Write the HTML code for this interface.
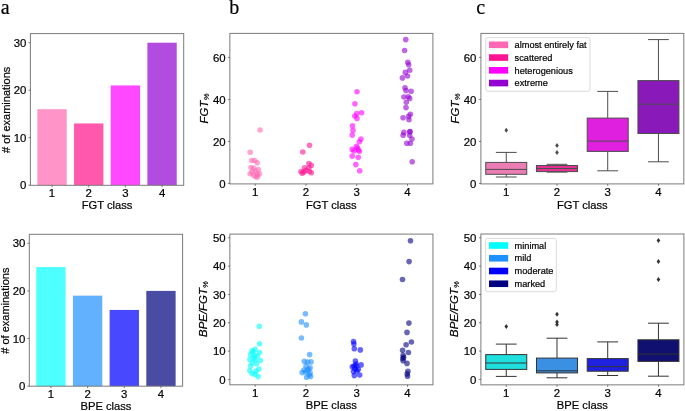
<!DOCTYPE html>
<html><head><meta charset="utf-8"><title>Figure</title>
<style>
html,body{margin:0;padding:0;background:#fff;}
body{width:685px;height:411px;overflow:hidden;}
svg{display:block;font-family:"Liberation Sans",sans-serif;fill:#000;will-change:transform;}
text{fill:#000;stroke:#000;stroke-width:0.2px;}
</style></head>
<body>
<svg width="685" height="411" viewBox="0 0 685 411">
<rect x="0" y="0" width="685" height="411" fill="#fff"/>
<text x="0.8" y="13.7" font-family="Liberation Serif, serif" font-size="20">a</text>
<text x="229.2" y="13.7" font-family="Liberation Serif, serif" font-size="20">b</text>
<text x="476.2" y="13.7" font-family="Liberation Serif, serif" font-size="20">c</text>
<rect x="37.37" y="109.2" width="29.34" height="76" fill="rgb(255,148,200)"/>
<rect x="74.04" y="123.45" width="29.34" height="61.75" fill="rgb(255,88,172)"/>
<rect x="110.72" y="85.45" width="29.34" height="99.75" fill="rgb(255,72,255)"/>
<rect x="147.39" y="42.7" width="29.34" height="142.5" fill="rgb(178,76,224)"/>
<rect x="30.4" y="33.6" width="153.3" height="151.7" fill="none" stroke="#7b7b7b" stroke-width="1.0"/>
<line x1="28.4" y1="185.2" x2="30.4" y2="185.2" stroke="#333" stroke-width="0.6"/>
<text x="26.4" y="189.35" text-anchor="end" font-size="11.4">0</text>
<line x1="28.4" y1="137.7" x2="30.4" y2="137.7" stroke="#333" stroke-width="0.6"/>
<text x="26.4" y="141.85" text-anchor="end" font-size="11.4">10</text>
<line x1="28.4" y1="90.2" x2="30.4" y2="90.2" stroke="#333" stroke-width="0.6"/>
<text x="26.4" y="94.35" text-anchor="end" font-size="11.4">20</text>
<line x1="28.4" y1="42.7" x2="30.4" y2="42.7" stroke="#333" stroke-width="0.6"/>
<text x="26.4" y="46.85" text-anchor="end" font-size="11.4">30</text>
<line x1="52.04" y1="185.3" x2="52.04" y2="187.3" stroke="#333" stroke-width="0.6"/>
<text x="52.04" y="196.9" text-anchor="middle" font-size="11.4">1</text>
<line x1="88.71" y1="185.3" x2="88.71" y2="187.3" stroke="#333" stroke-width="0.6"/>
<text x="88.71" y="196.9" text-anchor="middle" font-size="11.4">2</text>
<line x1="125.39" y1="185.3" x2="125.39" y2="187.3" stroke="#333" stroke-width="0.6"/>
<text x="125.39" y="196.9" text-anchor="middle" font-size="11.4">3</text>
<line x1="162.06" y1="185.3" x2="162.06" y2="187.3" stroke="#333" stroke-width="0.6"/>
<text x="162.06" y="196.9" text-anchor="middle" font-size="11.4">4</text>
<text x="107.05" y="209" text-anchor="middle" font-size="11.2">FGT class</text>
<text transform="translate(9.8,109.85) rotate(-90)" x="0" y="0" text-anchor="middle" font-size="11"># of examinations</text>
<rect x="36.27" y="267.1" width="29.34" height="119" fill="rgb(77,255,255)"/>
<rect x="72.94" y="295.66" width="29.34" height="90.44" fill="rgb(98,177,255)"/>
<rect x="109.62" y="309.94" width="29.34" height="76.16" fill="rgb(72,72,255)"/>
<rect x="146.29" y="290.9" width="29.34" height="95.2" fill="rgb(74,76,164)"/>
<rect x="29.3" y="234.3" width="153.3" height="151.9" fill="none" stroke="#7b7b7b" stroke-width="1.0"/>
<line x1="27.3" y1="386.1" x2="29.3" y2="386.1" stroke="#333" stroke-width="0.6"/>
<text x="25.3" y="390.25" text-anchor="end" font-size="11.4">0</text>
<line x1="27.3" y1="338.5" x2="29.3" y2="338.5" stroke="#333" stroke-width="0.6"/>
<text x="25.3" y="342.65" text-anchor="end" font-size="11.4">10</text>
<line x1="27.3" y1="290.9" x2="29.3" y2="290.9" stroke="#333" stroke-width="0.6"/>
<text x="25.3" y="295.05" text-anchor="end" font-size="11.4">20</text>
<line x1="27.3" y1="243.3" x2="29.3" y2="243.3" stroke="#333" stroke-width="0.6"/>
<text x="25.3" y="247.45" text-anchor="end" font-size="11.4">30</text>
<line x1="50.94" y1="386.2" x2="50.94" y2="388.2" stroke="#333" stroke-width="0.6"/>
<text x="50.94" y="397.8" text-anchor="middle" font-size="11.4">1</text>
<line x1="87.61" y1="386.2" x2="87.61" y2="388.2" stroke="#333" stroke-width="0.6"/>
<text x="87.61" y="397.8" text-anchor="middle" font-size="11.4">2</text>
<line x1="124.29" y1="386.2" x2="124.29" y2="388.2" stroke="#333" stroke-width="0.6"/>
<text x="124.29" y="397.8" text-anchor="middle" font-size="11.4">3</text>
<line x1="160.96" y1="386.2" x2="160.96" y2="388.2" stroke="#333" stroke-width="0.6"/>
<text x="160.96" y="397.8" text-anchor="middle" font-size="11.4">4</text>
<text x="105.95" y="409.9" text-anchor="middle" font-size="11.2">BPE class</text>
<text transform="translate(8.7,310.65) rotate(-90)" x="0" y="0" text-anchor="middle" font-size="11"># of examinations</text>
<circle cx="260.1" cy="130" r="2.8" fill="rgb(255, 105, 180)" fill-opacity="0.6"/>
<circle cx="250.2" cy="152.2" r="2.8" fill="rgb(255, 105, 180)" fill-opacity="0.6"/>
<circle cx="251.7" cy="160.5" r="2.8" fill="rgb(255, 105, 180)" fill-opacity="0.6"/>
<circle cx="254.5" cy="160.5" r="2.8" fill="rgb(255, 105, 180)" fill-opacity="0.6"/>
<circle cx="257.2" cy="162.8" r="2.8" fill="rgb(255, 105, 180)" fill-opacity="0.6"/>
<circle cx="251" cy="167.5" r="2.8" fill="rgb(255, 105, 180)" fill-opacity="0.6"/>
<circle cx="253.7" cy="168.3" r="2.8" fill="rgb(255, 105, 180)" fill-opacity="0.6"/>
<circle cx="258.3" cy="169.5" r="2.8" fill="rgb(255, 105, 180)" fill-opacity="0.6"/>
<circle cx="250.2" cy="173.7" r="2.8" fill="rgb(255, 105, 180)" fill-opacity="0.6"/>
<circle cx="253.7" cy="175.3" r="2.8" fill="rgb(255, 105, 180)" fill-opacity="0.6"/>
<circle cx="257.2" cy="174.1" r="2.8" fill="rgb(255, 105, 180)" fill-opacity="0.6"/>
<circle cx="259.5" cy="173.7" r="2.8" fill="rgb(255, 105, 180)" fill-opacity="0.6"/>
<circle cx="257.6" cy="176.8" r="2.8" fill="rgb(255, 105, 180)" fill-opacity="0.6"/>
<circle cx="255.5" cy="171" r="2.8" fill="rgb(255, 105, 180)" fill-opacity="0.6"/>
<circle cx="256" cy="177" r="2.8" fill="rgb(255, 105, 180)" fill-opacity="0.6"/>
<circle cx="252" cy="172" r="2.8" fill="rgb(255, 105, 180)" fill-opacity="0.6"/>
<circle cx="309.5" cy="145.3" r="2.8" fill="rgb(255, 20, 147)" fill-opacity="0.6"/>
<circle cx="302.8" cy="152" r="2.8" fill="rgb(255, 20, 147)" fill-opacity="0.6"/>
<circle cx="308.9" cy="163.6" r="2.8" fill="rgb(255, 20, 147)" fill-opacity="0.6"/>
<circle cx="311.3" cy="165.4" r="2.8" fill="rgb(255, 20, 147)" fill-opacity="0.6"/>
<circle cx="304.6" cy="167.8" r="2.8" fill="rgb(255, 20, 147)" fill-opacity="0.6"/>
<circle cx="308.9" cy="167.8" r="2.8" fill="rgb(255, 20, 147)" fill-opacity="0.6"/>
<circle cx="301" cy="171.5" r="2.8" fill="rgb(255, 20, 147)" fill-opacity="0.6"/>
<circle cx="304" cy="172.1" r="2.8" fill="rgb(255, 20, 147)" fill-opacity="0.6"/>
<circle cx="309.5" cy="171.5" r="2.8" fill="rgb(255, 20, 147)" fill-opacity="0.6"/>
<circle cx="311.3" cy="172.7" r="2.8" fill="rgb(255, 20, 147)" fill-opacity="0.6"/>
<circle cx="302.2" cy="173.3" r="2.8" fill="rgb(255, 20, 147)" fill-opacity="0.6"/>
<circle cx="306" cy="170.5" r="2.8" fill="rgb(255, 20, 147)" fill-opacity="0.6"/>
<circle cx="357" cy="91.7" r="2.8" fill="rgb(255, 0, 255)" fill-opacity="0.6"/>
<circle cx="354.9" cy="103.8" r="2.8" fill="rgb(255, 0, 255)" fill-opacity="0.6"/>
<circle cx="361.6" cy="112.7" r="2.8" fill="rgb(255, 0, 255)" fill-opacity="0.6"/>
<circle cx="356.8" cy="113.6" r="2.8" fill="rgb(255, 0, 255)" fill-opacity="0.6"/>
<circle cx="354.8" cy="116" r="2.8" fill="rgb(255, 0, 255)" fill-opacity="0.6"/>
<circle cx="357" cy="118.4" r="2.8" fill="rgb(255, 0, 255)" fill-opacity="0.6"/>
<circle cx="352.5" cy="125.7" r="2.8" fill="rgb(255, 0, 255)" fill-opacity="0.6"/>
<circle cx="353" cy="130.3" r="2.8" fill="rgb(255, 0, 255)" fill-opacity="0.6"/>
<circle cx="352.2" cy="135.1" r="2.8" fill="rgb(255, 0, 255)" fill-opacity="0.6"/>
<circle cx="360.9" cy="139.1" r="2.8" fill="rgb(255, 0, 255)" fill-opacity="0.6"/>
<circle cx="359.4" cy="141.8" r="2.8" fill="rgb(255, 0, 255)" fill-opacity="0.6"/>
<circle cx="356.4" cy="146.4" r="2.8" fill="rgb(255, 0, 255)" fill-opacity="0.6"/>
<circle cx="352.2" cy="149.4" r="2.8" fill="rgb(255, 0, 255)" fill-opacity="0.6"/>
<circle cx="358.2" cy="150" r="2.8" fill="rgb(255, 0, 255)" fill-opacity="0.6"/>
<circle cx="359.4" cy="151.3" r="2.8" fill="rgb(255, 0, 255)" fill-opacity="0.6"/>
<circle cx="352.2" cy="156.1" r="2.8" fill="rgb(255, 0, 255)" fill-opacity="0.6"/>
<circle cx="358.2" cy="157.3" r="2.8" fill="rgb(255, 0, 255)" fill-opacity="0.6"/>
<circle cx="355.8" cy="164.6" r="2.8" fill="rgb(255, 0, 255)" fill-opacity="0.6"/>
<circle cx="359.7" cy="170.7" r="2.8" fill="rgb(255, 0, 255)" fill-opacity="0.6"/>
<circle cx="357.5" cy="148" r="2.8" fill="rgb(255, 0, 255)" fill-opacity="0.6"/>
<circle cx="354" cy="151" r="2.8" fill="rgb(255, 0, 255)" fill-opacity="0.6"/>
<circle cx="405.75" cy="39.6" r="2.8" fill="rgb(148, 0, 211)" fill-opacity="0.6"/>
<circle cx="404.6" cy="50.5" r="2.8" fill="rgb(148, 0, 211)" fill-opacity="0.6"/>
<circle cx="407.8" cy="62.2" r="2.8" fill="rgb(148, 0, 211)" fill-opacity="0.6"/>
<circle cx="408.7" cy="64.8" r="2.8" fill="rgb(148, 0, 211)" fill-opacity="0.6"/>
<circle cx="409.7" cy="70.2" r="2.8" fill="rgb(148, 0, 211)" fill-opacity="0.6"/>
<circle cx="405.3" cy="72.4" r="2.8" fill="rgb(148, 0, 211)" fill-opacity="0.6"/>
<circle cx="407.5" cy="76" r="2.8" fill="rgb(148, 0, 211)" fill-opacity="0.6"/>
<circle cx="402.4" cy="77.9" r="2.8" fill="rgb(148, 0, 211)" fill-opacity="0.6"/>
<circle cx="405" cy="87.7" r="2.8" fill="rgb(148, 0, 211)" fill-opacity="0.6"/>
<circle cx="406" cy="90.6" r="2.8" fill="rgb(148, 0, 211)" fill-opacity="0.6"/>
<circle cx="411.1" cy="91.3" r="2.8" fill="rgb(148, 0, 211)" fill-opacity="0.6"/>
<circle cx="403.9" cy="97" r="2.8" fill="rgb(148, 0, 211)" fill-opacity="0.6"/>
<circle cx="408.2" cy="96.7" r="2.8" fill="rgb(148, 0, 211)" fill-opacity="0.6"/>
<circle cx="409.7" cy="98.4" r="2.8" fill="rgb(148, 0, 211)" fill-opacity="0.6"/>
<circle cx="406.3" cy="102.2" r="2.8" fill="rgb(148, 0, 211)" fill-opacity="0.6"/>
<circle cx="406" cy="107.6" r="2.8" fill="rgb(148, 0, 211)" fill-opacity="0.6"/>
<circle cx="410.4" cy="114.2" r="2.8" fill="rgb(148, 0, 211)" fill-opacity="0.6"/>
<circle cx="403.1" cy="117.8" r="2.8" fill="rgb(148, 0, 211)" fill-opacity="0.6"/>
<circle cx="408.7" cy="116.4" r="2.8" fill="rgb(148, 0, 211)" fill-opacity="0.6"/>
<circle cx="409" cy="119.7" r="2.8" fill="rgb(148, 0, 211)" fill-opacity="0.6"/>
<circle cx="403.9" cy="132.4" r="2.8" fill="rgb(148, 0, 211)" fill-opacity="0.6"/>
<circle cx="403.1" cy="135.3" r="2.8" fill="rgb(148, 0, 211)" fill-opacity="0.6"/>
<circle cx="409.7" cy="131.7" r="2.8" fill="rgb(148, 0, 211)" fill-opacity="0.6"/>
<circle cx="409.7" cy="135.3" r="2.8" fill="rgb(148, 0, 211)" fill-opacity="0.6"/>
<circle cx="411.9" cy="139" r="2.8" fill="rgb(148, 0, 211)" fill-opacity="0.6"/>
<circle cx="406.8" cy="143.3" r="2.8" fill="rgb(148, 0, 211)" fill-opacity="0.6"/>
<circle cx="410.4" cy="143.3" r="2.8" fill="rgb(148, 0, 211)" fill-opacity="0.6"/>
<circle cx="412.2" cy="161.8" r="2.8" fill="rgb(148, 0, 211)" fill-opacity="0.6"/>
<circle cx="410.1" cy="131.6" r="2.8" fill="rgb(148, 0, 211)" fill-opacity="0.6"/>
<rect x="229.85" y="33.4" width="203.05" height="150.5" fill="none" stroke="#7b7b7b" stroke-width="1.0"/>
<line x1="227.85" y1="183.4" x2="229.85" y2="183.4" stroke="#333" stroke-width="0.6"/>
<text x="225.6" y="187.55" text-anchor="end" font-size="11.4">0</text>
<line x1="227.85" y1="141.4" x2="229.85" y2="141.4" stroke="#333" stroke-width="0.6"/>
<text x="225.6" y="145.55" text-anchor="end" font-size="11.4">20</text>
<line x1="227.85" y1="99.4" x2="229.85" y2="99.4" stroke="#333" stroke-width="0.6"/>
<text x="225.6" y="103.55" text-anchor="end" font-size="11.4">40</text>
<line x1="227.85" y1="57.4" x2="229.85" y2="57.4" stroke="#333" stroke-width="0.6"/>
<text x="225.6" y="61.55" text-anchor="end" font-size="11.4">60</text>
<line x1="255.19" y1="183.9" x2="255.19" y2="185.9" stroke="#333" stroke-width="0.6"/>
<text x="255.19" y="195.9" text-anchor="middle" font-size="11.4">1</text>
<line x1="305.96" y1="183.9" x2="305.96" y2="185.9" stroke="#333" stroke-width="0.6"/>
<text x="305.96" y="195.9" text-anchor="middle" font-size="11.4">2</text>
<line x1="356.74" y1="183.9" x2="356.74" y2="185.9" stroke="#333" stroke-width="0.6"/>
<text x="356.74" y="195.9" text-anchor="middle" font-size="11.4">3</text>
<line x1="407.51" y1="183.9" x2="407.51" y2="185.9" stroke="#333" stroke-width="0.6"/>
<text x="407.51" y="195.9" text-anchor="middle" font-size="11.4">4</text>
<text x="331.35" y="208.6" text-anchor="middle" font-size="11.2">FGT class</text>
<text transform="translate(207.7,108.5) rotate(-90)" x="0" y="0" text-anchor="middle" font-size="11.4" font-style="italic">FGT<tspan font-size="7.6" dy="1.1" dx="0.3" font-style="italic">%</tspan></text>
<circle cx="259.3" cy="326.3" r="2.8" fill="rgb(0, 255, 255)" fill-opacity="0.6"/>
<circle cx="259.6" cy="343.7" r="2.8" fill="rgb(0, 255, 255)" fill-opacity="0.6"/>
<circle cx="252.1" cy="350.9" r="2.8" fill="rgb(0, 255, 255)" fill-opacity="0.6"/>
<circle cx="255.1" cy="349.4" r="2.8" fill="rgb(0, 255, 255)" fill-opacity="0.6"/>
<circle cx="259.6" cy="352.5" r="2.8" fill="rgb(0, 255, 255)" fill-opacity="0.6"/>
<circle cx="250.6" cy="354.7" r="2.8" fill="rgb(0, 255, 255)" fill-opacity="0.6"/>
<circle cx="254.3" cy="355.5" r="2.8" fill="rgb(0, 255, 255)" fill-opacity="0.6"/>
<circle cx="249.8" cy="359.5" r="2.8" fill="rgb(0, 255, 255)" fill-opacity="0.6"/>
<circle cx="255.1" cy="360" r="2.8" fill="rgb(0, 255, 255)" fill-opacity="0.6"/>
<circle cx="260.4" cy="360.5" r="2.8" fill="rgb(0, 255, 255)" fill-opacity="0.6"/>
<circle cx="252.1" cy="363" r="2.8" fill="rgb(0, 255, 255)" fill-opacity="0.6"/>
<circle cx="256.6" cy="363.8" r="2.8" fill="rgb(0, 255, 255)" fill-opacity="0.6"/>
<circle cx="250.6" cy="366" r="2.8" fill="rgb(0, 255, 255)" fill-opacity="0.6"/>
<circle cx="258.9" cy="369" r="2.8" fill="rgb(0, 255, 255)" fill-opacity="0.6"/>
<circle cx="249.8" cy="370.6" r="2.8" fill="rgb(0, 255, 255)" fill-opacity="0.6"/>
<circle cx="252.1" cy="373.6" r="2.8" fill="rgb(0, 255, 255)" fill-opacity="0.6"/>
<circle cx="255.1" cy="374.3" r="2.8" fill="rgb(0, 255, 255)" fill-opacity="0.6"/>
<circle cx="258.1" cy="376.6" r="2.8" fill="rgb(0, 255, 255)" fill-opacity="0.6"/>
<circle cx="254" cy="358" r="2.8" fill="rgb(0, 255, 255)" fill-opacity="0.6"/>
<circle cx="256" cy="371" r="2.8" fill="rgb(0, 255, 255)" fill-opacity="0.6"/>
<circle cx="253" cy="352" r="2.8" fill="rgb(0, 255, 255)" fill-opacity="0.6"/>
<circle cx="257.5" cy="356" r="2.8" fill="rgb(0, 255, 255)" fill-opacity="0.6"/>
<circle cx="305.4" cy="313.8" r="2.8" fill="rgb(30, 144, 255)" fill-opacity="0.6"/>
<circle cx="301.4" cy="321.9" r="2.8" fill="rgb(30, 144, 255)" fill-opacity="0.6"/>
<circle cx="306.3" cy="324.9" r="2.8" fill="rgb(30, 144, 255)" fill-opacity="0.6"/>
<circle cx="301.4" cy="338" r="2.8" fill="rgb(30, 144, 255)" fill-opacity="0.6"/>
<circle cx="309.6" cy="354.6" r="2.8" fill="rgb(30, 144, 255)" fill-opacity="0.6"/>
<circle cx="304.3" cy="361.2" r="2.8" fill="rgb(30, 144, 255)" fill-opacity="0.6"/>
<circle cx="307.5" cy="362.1" r="2.8" fill="rgb(30, 144, 255)" fill-opacity="0.6"/>
<circle cx="311" cy="361.9" r="2.8" fill="rgb(30, 144, 255)" fill-opacity="0.6"/>
<circle cx="310.1" cy="367.7" r="2.8" fill="rgb(30, 144, 255)" fill-opacity="0.6"/>
<circle cx="307.5" cy="370.3" r="2.8" fill="rgb(30, 144, 255)" fill-opacity="0.6"/>
<circle cx="302.2" cy="372.6" r="2.8" fill="rgb(30, 144, 255)" fill-opacity="0.6"/>
<circle cx="305.7" cy="372.1" r="2.8" fill="rgb(30, 144, 255)" fill-opacity="0.6"/>
<circle cx="310.1" cy="372.9" r="2.8" fill="rgb(30, 144, 255)" fill-opacity="0.6"/>
<circle cx="306.6" cy="377.3" r="2.8" fill="rgb(30, 144, 255)" fill-opacity="0.6"/>
<circle cx="310.6" cy="376.4" r="2.8" fill="rgb(30, 144, 255)" fill-opacity="0.6"/>
<circle cx="308.5" cy="369" r="2.8" fill="rgb(30, 144, 255)" fill-opacity="0.6"/>
<circle cx="304" cy="370" r="2.8" fill="rgb(30, 144, 255)" fill-opacity="0.6"/>
<circle cx="309" cy="375" r="2.8" fill="rgb(30, 144, 255)" fill-opacity="0.6"/>
<circle cx="306" cy="366" r="2.8" fill="rgb(30, 144, 255)" fill-opacity="0.6"/>
<circle cx="353.5" cy="341.6" r="2.8" fill="rgb(0, 0, 255)" fill-opacity="0.6"/>
<circle cx="353.9" cy="344.1" r="2.8" fill="rgb(0, 0, 255)" fill-opacity="0.6"/>
<circle cx="354.3" cy="348.7" r="2.8" fill="rgb(0, 0, 255)" fill-opacity="0.6"/>
<circle cx="360.3" cy="349.9" r="2.8" fill="rgb(0, 0, 255)" fill-opacity="0.6"/>
<circle cx="355.4" cy="361.1" r="2.8" fill="rgb(0, 0, 255)" fill-opacity="0.6"/>
<circle cx="352.3" cy="366.8" r="2.8" fill="rgb(0, 0, 255)" fill-opacity="0.6"/>
<circle cx="356.6" cy="366.1" r="2.8" fill="rgb(0, 0, 255)" fill-opacity="0.6"/>
<circle cx="361.1" cy="364.9" r="2.8" fill="rgb(0, 0, 255)" fill-opacity="0.6"/>
<circle cx="354.9" cy="368.7" r="2.8" fill="rgb(0, 0, 255)" fill-opacity="0.6"/>
<circle cx="353.5" cy="371.6" r="2.8" fill="rgb(0, 0, 255)" fill-opacity="0.6"/>
<circle cx="358.3" cy="369.3" r="2.8" fill="rgb(0, 0, 255)" fill-opacity="0.6"/>
<circle cx="354.3" cy="375.6" r="2.8" fill="rgb(0, 0, 255)" fill-opacity="0.6"/>
<circle cx="359.7" cy="375" r="2.8" fill="rgb(0, 0, 255)" fill-opacity="0.6"/>
<circle cx="356" cy="364" r="2.8" fill="rgb(0, 0, 255)" fill-opacity="0.6"/>
<circle cx="357" cy="371" r="2.8" fill="rgb(0, 0, 255)" fill-opacity="0.6"/>
<circle cx="354" cy="366" r="2.8" fill="rgb(0, 0, 255)" fill-opacity="0.6"/>
<circle cx="410.5" cy="240.8" r="2.8" fill="rgb(0, 0, 128)" fill-opacity="0.6"/>
<circle cx="409.1" cy="261.6" r="2.8" fill="rgb(0, 0, 128)" fill-opacity="0.6"/>
<circle cx="402.5" cy="279.5" r="2.8" fill="rgb(0, 0, 128)" fill-opacity="0.6"/>
<circle cx="408.9" cy="323.1" r="2.8" fill="rgb(0, 0, 128)" fill-opacity="0.6"/>
<circle cx="407" cy="332.4" r="2.8" fill="rgb(0, 0, 128)" fill-opacity="0.6"/>
<circle cx="411.4" cy="342" r="2.8" fill="rgb(0, 0, 128)" fill-opacity="0.6"/>
<circle cx="406.1" cy="344.7" r="2.8" fill="rgb(0, 0, 128)" fill-opacity="0.6"/>
<circle cx="402.6" cy="350.3" r="2.8" fill="rgb(0, 0, 128)" fill-opacity="0.6"/>
<circle cx="408.4" cy="352.5" r="2.8" fill="rgb(0, 0, 128)" fill-opacity="0.6"/>
<circle cx="403.1" cy="355.2" r="2.8" fill="rgb(0, 0, 128)" fill-opacity="0.6"/>
<circle cx="403.7" cy="357.3" r="2.8" fill="rgb(0, 0, 128)" fill-opacity="0.6"/>
<circle cx="403.1" cy="360.8" r="2.8" fill="rgb(0, 0, 128)" fill-opacity="0.6"/>
<circle cx="407" cy="363.4" r="2.8" fill="rgb(0, 0, 128)" fill-opacity="0.6"/>
<circle cx="407.9" cy="371.3" r="2.8" fill="rgb(0, 0, 128)" fill-opacity="0.6"/>
<circle cx="407.2" cy="373.9" r="2.8" fill="rgb(0, 0, 128)" fill-opacity="0.6"/>
<circle cx="407.5" cy="376.2" r="2.8" fill="rgb(0, 0, 128)" fill-opacity="0.6"/>
<circle cx="402.8" cy="358.5" r="2.8" fill="rgb(0, 0, 128)" fill-opacity="0.6"/>
<rect x="229.85" y="234.1" width="203.1" height="150.7" fill="none" stroke="#7b7b7b" stroke-width="1.0"/>
<line x1="227.85" y1="379.4" x2="229.85" y2="379.4" stroke="#333" stroke-width="0.6"/>
<text x="225.6" y="383.55" text-anchor="end" font-size="11.4">0</text>
<line x1="227.85" y1="351.08" x2="229.85" y2="351.08" stroke="#333" stroke-width="0.6"/>
<text x="225.6" y="355.23" text-anchor="end" font-size="11.4">10</text>
<line x1="227.85" y1="322.76" x2="229.85" y2="322.76" stroke="#333" stroke-width="0.6"/>
<text x="225.6" y="326.91" text-anchor="end" font-size="11.4">20</text>
<line x1="227.85" y1="294.44" x2="229.85" y2="294.44" stroke="#333" stroke-width="0.6"/>
<text x="225.6" y="298.59" text-anchor="end" font-size="11.4">30</text>
<line x1="227.85" y1="266.12" x2="229.85" y2="266.12" stroke="#333" stroke-width="0.6"/>
<text x="225.6" y="270.27" text-anchor="end" font-size="11.4">40</text>
<line x1="227.85" y1="237.8" x2="229.85" y2="237.8" stroke="#333" stroke-width="0.6"/>
<text x="225.6" y="241.95" text-anchor="end" font-size="11.4">50</text>
<line x1="255.19" y1="384.8" x2="255.19" y2="386.8" stroke="#333" stroke-width="0.6"/>
<text x="255.19" y="396.5" text-anchor="middle" font-size="11.4">1</text>
<line x1="305.96" y1="384.8" x2="305.96" y2="386.8" stroke="#333" stroke-width="0.6"/>
<text x="305.96" y="396.5" text-anchor="middle" font-size="11.4">2</text>
<line x1="356.74" y1="384.8" x2="356.74" y2="386.8" stroke="#333" stroke-width="0.6"/>
<text x="356.74" y="396.5" text-anchor="middle" font-size="11.4">3</text>
<line x1="407.51" y1="384.8" x2="407.51" y2="386.8" stroke="#333" stroke-width="0.6"/>
<text x="407.51" y="396.5" text-anchor="middle" font-size="11.4">4</text>
<text x="331.35" y="408.8" text-anchor="middle" font-size="11.2">BPE class</text>
<text transform="translate(207.3,309) rotate(-90)" x="0" y="0" text-anchor="middle" font-size="11.4" font-style="italic">BPE/FGT<tspan font-size="7.6" dy="1.1" dx="0.3" font-style="italic">%</tspan></text>
<line x1="506.26" y1="152.4" x2="506.26" y2="162.4" stroke="#4d4d4d" stroke-width="1.0"/>
<line x1="506.26" y1="174.3" x2="506.26" y2="177" stroke="#4d4d4d" stroke-width="1.0"/>
<line x1="495.86" y1="152.4" x2="516.66" y2="152.4" stroke="#4d4d4d" stroke-width="1.0"/>
<line x1="495.86" y1="177" x2="516.66" y2="177" stroke="#4d4d4d" stroke-width="1.0"/>
<rect x="485.76" y="162.4" width="41" height="11.9" fill="rgb(236, 124, 180)" stroke="#4d4d4d" stroke-width="1.0"/>
<line x1="485.76" y1="169.4" x2="526.76" y2="169.4" stroke="#4d4d4d" stroke-width="1.0"/>
<path d="M506.26 127.8L508.06 130.3L506.26 132.8L504.46 130.3Z" fill="#4d4d4d"/>
<line x1="556.99" y1="164.3" x2="556.99" y2="165.5" stroke="#4d4d4d" stroke-width="1.0"/>
<line x1="556.99" y1="171.6" x2="556.99" y2="172.1" stroke="#4d4d4d" stroke-width="1.0"/>
<line x1="546.59" y1="164.3" x2="567.39" y2="164.3" stroke="#4d4d4d" stroke-width="1.0"/>
<line x1="546.59" y1="172.1" x2="567.39" y2="172.1" stroke="#4d4d4d" stroke-width="1.0"/>
<rect x="536.49" y="165.5" width="41" height="6.1" fill="rgb(226, 49, 145)" stroke="#4d4d4d" stroke-width="1.0"/>
<line x1="536.49" y1="168.5" x2="577.49" y2="168.5" stroke="#4d4d4d" stroke-width="1.0"/>
<path d="M556.99 142.9L558.79 145.4L556.99 147.9L555.19 145.4Z" fill="#4d4d4d"/>
<path d="M556.99 149.9L558.79 152.4L556.99 154.9L555.19 152.4Z" fill="#4d4d4d"/>
<line x1="607.71" y1="91.4" x2="607.71" y2="118.1" stroke="#4d4d4d" stroke-width="1.0"/>
<line x1="607.71" y1="151.4" x2="607.71" y2="170.8" stroke="#4d4d4d" stroke-width="1.0"/>
<line x1="597.31" y1="91.4" x2="618.11" y2="91.4" stroke="#4d4d4d" stroke-width="1.0"/>
<line x1="597.31" y1="170.8" x2="618.11" y2="170.8" stroke="#4d4d4d" stroke-width="1.0"/>
<rect x="587.21" y="118.1" width="41" height="33.3" fill="rgb(223, 32, 223)" stroke="#4d4d4d" stroke-width="1.0"/>
<line x1="587.21" y1="141.1" x2="628.21" y2="141.1" stroke="#4d4d4d" stroke-width="1.0"/>
<line x1="658.44" y1="39.6" x2="658.44" y2="80.6" stroke="#4d4d4d" stroke-width="1.0"/>
<line x1="658.44" y1="133.5" x2="658.44" y2="161.8" stroke="#4d4d4d" stroke-width="1.0"/>
<line x1="648.04" y1="39.6" x2="668.84" y2="39.6" stroke="#4d4d4d" stroke-width="1.0"/>
<line x1="648.04" y1="161.8" x2="668.84" y2="161.8" stroke="#4d4d4d" stroke-width="1.0"/>
<rect x="637.94" y="80.6" width="41" height="52.9" fill="rgb(137, 26, 185)" stroke="#4d4d4d" stroke-width="1.0"/>
<line x1="637.94" y1="104.2" x2="678.94" y2="104.2" stroke="#4d4d4d" stroke-width="1.0"/>
<rect x="485.8" y="37.6" width="104.2" height="53.7" rx="2" fill="#fff" fill-opacity="0.8" stroke="#d6d6d6" stroke-width="0.9"/>
<rect x="489" y="41.5" width="19.2" height="6.6" fill="rgb(255, 105, 180)"/>
<text x="514.6" y="48" font-size="9.2">almost entirely fat</text>
<rect x="489" y="54.25" width="19.2" height="6.6" fill="rgb(255, 20, 147)"/>
<text x="514.6" y="60.75" font-size="9.2">scattered</text>
<rect x="489" y="67" width="19.2" height="6.6" fill="rgb(255, 0, 255)"/>
<text x="514.6" y="73.5" font-size="9.2">heterogenious</text>
<rect x="489" y="79.75" width="19.2" height="6.6" fill="rgb(148, 0, 211)"/>
<text x="514.6" y="86.25" font-size="9.2">extreme</text>
<rect x="480.9" y="33.4" width="202.9" height="150.5" fill="none" stroke="#7b7b7b" stroke-width="1.0"/>
<line x1="478.9" y1="183.4" x2="480.9" y2="183.4" stroke="#333" stroke-width="0.6"/>
<text x="476.3" y="187.55" text-anchor="end" font-size="11.4">0</text>
<line x1="478.9" y1="141.4" x2="480.9" y2="141.4" stroke="#333" stroke-width="0.6"/>
<text x="476.3" y="145.55" text-anchor="end" font-size="11.4">20</text>
<line x1="478.9" y1="99.4" x2="480.9" y2="99.4" stroke="#333" stroke-width="0.6"/>
<text x="476.3" y="103.55" text-anchor="end" font-size="11.4">40</text>
<line x1="478.9" y1="57.4" x2="480.9" y2="57.4" stroke="#333" stroke-width="0.6"/>
<text x="476.3" y="61.55" text-anchor="end" font-size="11.4">60</text>
<line x1="506.26" y1="183.9" x2="506.26" y2="185.9" stroke="#333" stroke-width="0.6"/>
<text x="506.26" y="195.9" text-anchor="middle" font-size="11.4">1</text>
<line x1="556.99" y1="183.9" x2="556.99" y2="185.9" stroke="#333" stroke-width="0.6"/>
<text x="556.99" y="195.9" text-anchor="middle" font-size="11.4">2</text>
<line x1="607.71" y1="183.9" x2="607.71" y2="185.9" stroke="#333" stroke-width="0.6"/>
<text x="607.71" y="195.9" text-anchor="middle" font-size="11.4">3</text>
<line x1="658.44" y1="183.9" x2="658.44" y2="185.9" stroke="#333" stroke-width="0.6"/>
<text x="658.44" y="195.9" text-anchor="middle" font-size="11.4">4</text>
<text x="582.35" y="208.6" text-anchor="middle" font-size="11.2">FGT class</text>
<text transform="translate(458.6,108.5) rotate(-90)" x="0" y="0" text-anchor="middle" font-size="11.4" font-style="italic">FGT<tspan font-size="7.6" dy="1.1" dx="0.3" font-style="italic">%</tspan></text>
<line x1="506.26" y1="344.1" x2="506.26" y2="354.6" stroke="#333333" stroke-width="1.0"/>
<line x1="506.26" y1="369.4" x2="506.26" y2="376.4" stroke="#333333" stroke-width="1.0"/>
<line x1="495.86" y1="344.1" x2="516.66" y2="344.1" stroke="#333333" stroke-width="1.0"/>
<line x1="495.86" y1="376.4" x2="516.66" y2="376.4" stroke="#333333" stroke-width="1.0"/>
<rect x="485.76" y="354.6" width="41" height="14.8" fill="rgb(32, 223, 223)" stroke="#333333" stroke-width="1.0"/>
<line x1="485.76" y1="363" x2="526.76" y2="363" stroke="#333333" stroke-width="1.0"/>
<path d="M506.26 324.1L508.06 326.6L506.26 329.1L504.46 326.6Z" fill="#333333"/>
<line x1="556.99" y1="338.2" x2="556.99" y2="358.1" stroke="#333333" stroke-width="1.0"/>
<line x1="556.99" y1="372.9" x2="556.99" y2="377.8" stroke="#333333" stroke-width="1.0"/>
<line x1="546.59" y1="338.2" x2="567.39" y2="338.2" stroke="#333333" stroke-width="1.0"/>
<line x1="546.59" y1="377.8" x2="567.39" y2="377.8" stroke="#333333" stroke-width="1.0"/>
<rect x="536.49" y="358.1" width="41" height="14.8" fill="rgb(58, 144, 227)" stroke="#333333" stroke-width="1.0"/>
<line x1="536.49" y1="370.8" x2="577.49" y2="370.8" stroke="#333333" stroke-width="1.0"/>
<path d="M556.99 311.8L558.79 314.3L556.99 316.8L555.19 314.3Z" fill="#333333"/>
<path d="M556.99 319.6L558.79 322.1L556.99 324.6L555.19 322.1Z" fill="#333333"/>
<path d="M556.99 322.1L558.79 324.6L556.99 327.1L555.19 324.6Z" fill="#333333"/>
<line x1="607.71" y1="341.9" x2="607.71" y2="358.6" stroke="#333333" stroke-width="1.0"/>
<line x1="607.71" y1="371.2" x2="607.71" y2="375.5" stroke="#333333" stroke-width="1.0"/>
<line x1="597.31" y1="341.9" x2="618.11" y2="341.9" stroke="#333333" stroke-width="1.0"/>
<line x1="597.31" y1="375.5" x2="618.11" y2="375.5" stroke="#333333" stroke-width="1.0"/>
<rect x="587.21" y="358.6" width="41" height="12.6" fill="rgb(32, 32, 223)" stroke="#333333" stroke-width="1.0"/>
<line x1="587.21" y1="366.6" x2="628.21" y2="366.6" stroke="#333333" stroke-width="1.0"/>
<line x1="658.44" y1="323.2" x2="658.44" y2="339.8" stroke="#333333" stroke-width="1.0"/>
<line x1="658.44" y1="361.4" x2="658.44" y2="376.2" stroke="#333333" stroke-width="1.0"/>
<line x1="648.04" y1="323.2" x2="668.84" y2="323.2" stroke="#333333" stroke-width="1.0"/>
<line x1="648.04" y1="376.2" x2="668.84" y2="376.2" stroke="#333333" stroke-width="1.0"/>
<rect x="637.94" y="339.8" width="41" height="21.6" fill="rgb(16, 16, 112)" stroke="#333333" stroke-width="1.0"/>
<line x1="637.94" y1="354.1" x2="678.94" y2="354.1" stroke="#333333" stroke-width="1.0"/>
<path d="M658.44 238L660.24 240.5L658.44 243L656.64 240.5Z" fill="#333333"/>
<path d="M658.44 259L660.24 261.5L658.44 264L656.64 261.5Z" fill="#333333"/>
<path d="M658.44 276.9L660.24 279.4L658.44 281.9L656.64 279.4Z" fill="#333333"/>
<rect x="485.6" y="238.4" width="70.7" height="53.3" rx="2" fill="#fff" fill-opacity="0.8" stroke="#d6d6d6" stroke-width="0.9"/>
<rect x="489" y="242.2" width="19.2" height="6.6" fill="rgb(0, 255, 255)"/>
<text x="514.6" y="248.7" font-size="9.2">minimal</text>
<rect x="489" y="254.95" width="19.2" height="6.6" fill="rgb(30, 144, 255)"/>
<text x="514.6" y="261.45" font-size="9.2">mild</text>
<rect x="489" y="267.7" width="19.2" height="6.6" fill="rgb(0, 0, 255)"/>
<text x="514.6" y="274.2" font-size="9.2">moderate</text>
<rect x="489" y="280.45" width="19.2" height="6.6" fill="rgb(0, 0, 128)"/>
<text x="514.6" y="286.95" font-size="9.2">marked</text>
<rect x="480.9" y="234" width="203" height="150.85" fill="none" stroke="#7b7b7b" stroke-width="1.0"/>
<line x1="478.9" y1="379.4" x2="480.9" y2="379.4" stroke="#333" stroke-width="0.6"/>
<text x="476.3" y="383.55" text-anchor="end" font-size="11.4">0</text>
<line x1="478.9" y1="351.08" x2="480.9" y2="351.08" stroke="#333" stroke-width="0.6"/>
<text x="476.3" y="355.23" text-anchor="end" font-size="11.4">10</text>
<line x1="478.9" y1="322.76" x2="480.9" y2="322.76" stroke="#333" stroke-width="0.6"/>
<text x="476.3" y="326.91" text-anchor="end" font-size="11.4">20</text>
<line x1="478.9" y1="294.44" x2="480.9" y2="294.44" stroke="#333" stroke-width="0.6"/>
<text x="476.3" y="298.59" text-anchor="end" font-size="11.4">30</text>
<line x1="478.9" y1="266.12" x2="480.9" y2="266.12" stroke="#333" stroke-width="0.6"/>
<text x="476.3" y="270.27" text-anchor="end" font-size="11.4">40</text>
<line x1="478.9" y1="237.8" x2="480.9" y2="237.8" stroke="#333" stroke-width="0.6"/>
<text x="476.3" y="241.95" text-anchor="end" font-size="11.4">50</text>
<line x1="506.26" y1="384.85" x2="506.26" y2="386.85" stroke="#333" stroke-width="0.6"/>
<text x="506.26" y="396.5" text-anchor="middle" font-size="11.4">1</text>
<line x1="556.99" y1="384.85" x2="556.99" y2="386.85" stroke="#333" stroke-width="0.6"/>
<text x="556.99" y="396.5" text-anchor="middle" font-size="11.4">2</text>
<line x1="607.71" y1="384.85" x2="607.71" y2="386.85" stroke="#333" stroke-width="0.6"/>
<text x="607.71" y="396.5" text-anchor="middle" font-size="11.4">3</text>
<line x1="658.44" y1="384.85" x2="658.44" y2="386.85" stroke="#333" stroke-width="0.6"/>
<text x="658.44" y="396.5" text-anchor="middle" font-size="11.4">4</text>
<text x="582.35" y="408.8" text-anchor="middle" font-size="11.2">BPE class</text>
<text transform="translate(458.2,309) rotate(-90)" x="0" y="0" text-anchor="middle" font-size="11.4" font-style="italic">BPE/FGT<tspan font-size="7.6" dy="1.1" dx="0.3" font-style="italic">%</tspan></text>
</svg>
</body></html>
